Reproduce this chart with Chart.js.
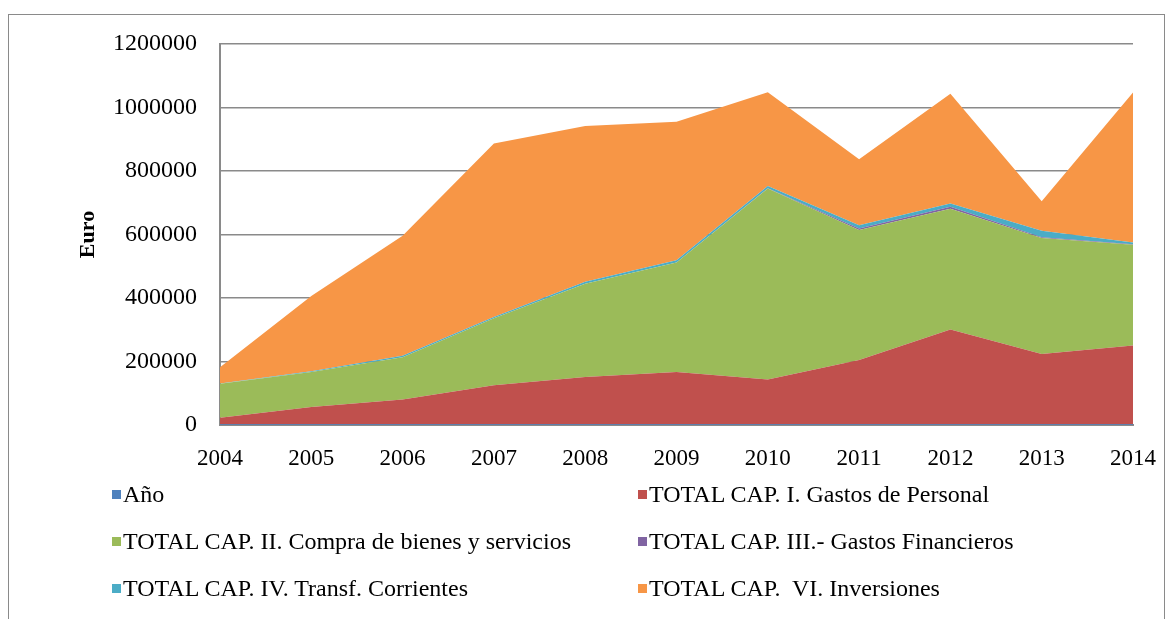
<!DOCTYPE html>
<html>
<head>
<meta charset="utf-8">
<script src="https://cdn.jsdelivr.net/npm/chart.js@4"></script>
<style>
  body { margin: 0; background: #fff; }
  #wrap { position: relative; width: 1173px; height: 619px; overflow: hidden; }
  #frame { position: absolute; left: 8px; top: 14px; width: 1155px; height: 640px; border: 1px solid #8a8a8a; }
  #chartBox { position: absolute; left: 0; top: 0; width: 1173px; height: 619px; }
  #legend { position: absolute; left: 112px; top: 471px; display: grid;
            grid-template-columns: 526px 440px; grid-auto-rows: 47px;
            font-family: 'Liberation Serif', serif; font-size: 24px; color: #000; }
  #legend .item { display: flex; align-items: center; white-space: pre; }
  #legend .sw { width: 9px; height: 9px; margin-right: 2px; }
</style>
</head>
<body>
<div id="wrap">
  <div id="frame"></div>
  <div id="chartBox"><canvas id="areaChart"></canvas></div>
  <div id="legend"></div>
</div>
<script>
const years = ['2004', '2005', '2006', '2007', '2008', '2009', '2010', '2011', '2012', '2013', '2014'];
const ano = [2004, 2005, 2006, 2007, 2008, 2009, 2010, 2011, 2012, 2013, 2014];
const gastosPersonal = [21000, 55000, 78000, 123000, 149000, 165000, 141000, 203000, 299000, 222000, 248000];
const compraBienes = [107000, 110000, 133000, 211000, 294000, 345000, 602000, 409000, 380000, 365000, 318000];
const gastosFinancieros = [0, 0, 0, 0, 0, 0, 1000, 5000, 6000, 2000, 1000];
const transfCorrientes = [1000, 2000, 5000, 4000, 6000, 7000, 7000, 10000, 11000, 21000, 6000];
const inversiones = [51000, 237000, 378000, 547000, 491000, 436000, 295000, 208000, 345000, 93000, 472000];
const yTicks = [0, 200000, 400000, 600000, 800000, 1000000, 1200000];

const seriesNames = [
    'Año',
    'TOTAL CAP. I. Gastos de Personal',
    'TOTAL CAP. II. Compra de bienes y servicios',
    'TOTAL CAP. III.- Gastos Financieros',
    'TOTAL CAP. IV. Transf. Corrientes',
    'TOTAL CAP.  VI. Inversiones'
];
const seriesData = [ano, gastosPersonal, compraBienes, gastosFinancieros, transfCorrientes, inversiones];
const seriesColors = ['#4F81BD', '#C0504D', '#9BBB59', '#8064A2', '#4BACC6', '#F79646'];

const serif = "'Liberation Serif', serif";

const ctx = document.getElementById('areaChart').getContext('2d');
new Chart(ctx, {
    type: 'line',
    data: {
        labels: years,
        datasets: seriesNames.map((name, i) => ({
            label: name,
            data: seriesData[i],
            backgroundColor: seriesColors[i],
            borderColor: seriesColors[i],
            borderWidth: 0,
            pointRadius: 0,
            tension: 0,
            fill: i === 0 ? 'origin' : '-1'
        }))
    },
    options: {
        responsive: true,
        maintainAspectRatio: false,
        animation: false,
        layout: { padding: { left: 75, top: 44, right: 40, bottom: 144 } },
        scales: {
            x: {
                stacked: true,
                grid: { display: false },
                border: { color: '#8a8a8a', width: 2 },
                ticks: { color: '#000', padding: 12, maxRotation: 0, font: { family: serif, size: 23 } },
                afterFit: (scale) => { scale.height = 50; }
            },
            y: {
                stacked: true,
                min: 0,
                max: 1200000,
                afterBuildTicks: (scale) => { scale.ticks = yTicks.map(v => ({ value: v })); },
                grid: { color: '#8a8a8a', lineWidth: 1.5, drawTicks: false },
                border: { color: '#8a8a8a', width: 2 },
                ticks: {
                    color: '#000',
                    padding: 23,
                    font: { family: serif, size: 24 },
                    callback: (v) => String(v)
                },
                title: {
                    display: true,
                    text: 'Euro',
                    color: '#000',
                    font: { family: serif, size: 22, weight: 'bold' },
                    padding: 0
                },
                afterFit: (scale) => { scale.width = 145; }
            }
        },
        plugins: {
            legend: { display: false },
            tooltip: { enabled: false }
        }
    }
});

// legend in two columns, like the original
const legendEl = document.getElementById('legend');
seriesNames.forEach((name, i) => {
    const item = document.createElement('div');
    item.className = 'item';
    const sw = document.createElement('span');
    sw.className = 'sw';
    sw.style.background = seriesColors[i];
    const txt = document.createElement('span');
    txt.textContent = name;
    item.appendChild(sw);
    item.appendChild(txt);
    legendEl.appendChild(item);
});
</script>
</body>
</html>
